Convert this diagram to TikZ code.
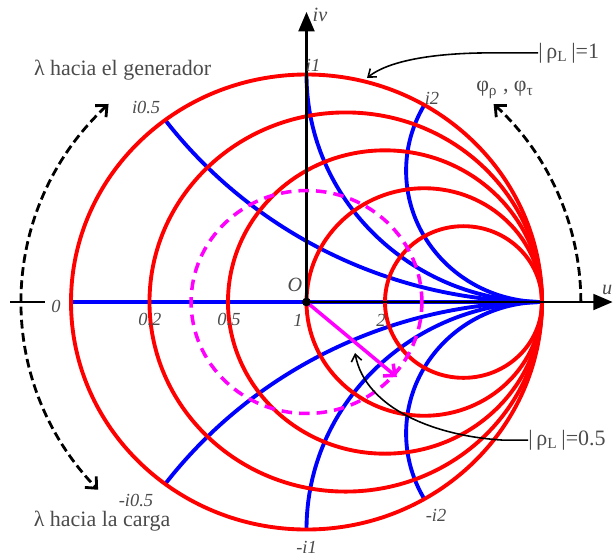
\documentclass[tikz,border=0pt]{standalone}
\usepackage{fontspec}
\setmainfont{Liberation Serif}
\usetikzlibrary{arrows.meta}
\definecolor{labelgray}{RGB}{75,75,75}
\definecolor{rhomagenta}{RGB}{255,0,255}

\begin{document}
\begin{tikzpicture}[x=4.71cm,y=4.55cm,
  rcircle/.style={red,line width=2.2pt},
  xarc/.style={blue,line width=2.2pt},
  axisline/.style={black,line width=1.4pt},
  rhocircle/.style={rhomagenta,line width=2pt,dash pattern=on 6pt off 4pt},
  chartlabel/.style={text=labelgray,font=\fontsize{10.5}{12}\selectfont\itshape,inner sep=0pt},
  axislabel/.style={text=labelgray,font=\fontsize{11.5}{13}\selectfont\itshape,inner sep=0pt},
  bigtext/.style={text=labelgray,font=\fontsize{12.5}{15}\selectfont,inner sep=0pt},
  turnarrow/.style={black,line width=1.6pt,dash pattern=on 5pt off 2.5pt},
  callout/.style={black,line width=0.9pt,-{Straight Barb[length=4pt,width=6pt]}}
]
\useasboundingbox (-1.3015,-1.134) rectangle (1.3015,1.3275);

\coordinate (O) at (0,0);
\coordinate (G) at (0.384,-0.330);
\coordinate (c1) at (0.257,0.985);
\coordinate (c05) at (0.206,-0.224);

% left end of the real axis
\draw[axisline] (-1.259,0) -- (-1.110,0);
\draw[xarc] (-1,0) -- (1,0);

% reactance arcs
\begin{scope}
\clip (0,0) circle [radius=1];
\foreach \c in {2,1,0.577} {
  \draw[xarc] (1,\c) circle [radius=\c];
  \draw[xarc] (1,-\c) circle [radius=\c];
}
\end{scope}

% resistance circles
\foreach \r in {0,0.2,0.5,1,2}
  \draw[rcircle] ({\r/(1+\r)},0) circle [radius={1/(1+\r)}];

% axes
\draw[axisline,-{Triangle[length=11pt,width=9pt]}] (O) -- (1.30,0);
\draw[axisline,-{Triangle[length=11pt,width=9pt]}] (O) -- (0,1.275);

% |rho| = 0.5
\draw[rhocircle] (O) circle [radius=0.49];
\draw[rhomagenta,line width=2pt,-{Straight Barb[length=5pt,width=9pt]}] (O) -- (G);
\fill (O) circle [radius=2.5pt];

% rotation arrows
\draw[turnarrow,{Straight Barb[length=5pt,width=9pt]}-{Straight Barb[length=5pt,width=9pt]}]
  (134:1.21) arc [start angle=134,end angle=223,radius=1.21];
\draw[turnarrow,-{Straight Barb[length=5pt,width=9pt]}]
  (1.165,0) arc [start angle=0,end angle=47,x radius=1.165,y radius=1.19];

% labels
\node[chartlabel] (r0) at (-1.064,-0.018) {0};
\node[chartlabel] (r02) at (-0.665,-0.079) {0.2};
\node[chartlabel] (r05) at (-0.329,-0.079) {0.5};
\node[chartlabel] (r1) at (-0.036,-0.079) {1};
\node[chartlabel] (r2) at (0.316,-0.079) {2};
\node[chartlabel] (x05) at (-0.681,0.857) {i0.5};
\node[chartlabel] (x1) at (0.028,1.042) {i1};
\node[chartlabel] (x2) at (0.533,0.897) {i2};
\node[chartlabel] (xm05) at (-0.724,-0.872) {-i0.5};
\node[chartlabel] (xm1) at (0,-1.077) {-i1};
\node[chartlabel] (xm2) at (0.550,-0.936) {-i2};
\node[axislabel] (olabel) at (-0.049,0.075) {O};
\node[axislabel] (vlabel) at (0.057,1.262) {iv};
\node[axislabel,anchor=east] (ulabel) at (1.30,0.053) {u};

\node[bigtext] (gen) at (-0.781,1.020) {λ hacia el generador};
\node[bigtext] (load) at (-0.868,-0.965) {λ hacia la carga};
\node[bigtext] (phase) at (0.843,0.932) {φ\textsubscript{ρ} , φ\textsubscript{τ}};
\node[bigtext,anchor=west] (rho1) at (0.983,1.095) {|\,ρ\textsubscript{L}\,|=1};
\node[bigtext,anchor=west] (rho05) at (0.941,-0.607) {|\,ρ\textsubscript{L}\,|=0.5};

\draw[callout] (rho1.west) -- ++(-0.204,0) .. controls (0.58,1.095) and (0.36,1.07) .. (c1);
\draw[callout] (rho05.west) -- ++(-0.107,0) .. controls (0.55,-0.59) and (0.25,-0.47) .. (c05);
\end{tikzpicture}
\end{document}
